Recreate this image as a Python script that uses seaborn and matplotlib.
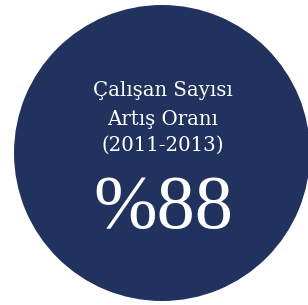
import matplotlib
matplotlib.use("Agg")
import matplotlib.pyplot as plt
import seaborn as sns

# --- veriler ---
baslik_satirlari = ["Çalışan Sayısı", "Artış Oranı", "(2011-2013)"]
artis_orani = 88
daire_payi = [100]

LACIVERT = "#21325f"

sns.set_theme(style="white")
plt.rcParams["font.family"] = ["DejaVu Serif", "Liberation Serif"]

fig = plt.figure(figsize=(3.08, 3.05), dpi=100)
ax = fig.add_axes([0, 0, 1, 1])

# tek dilimli pasta -> dolu daire
ax.pie(daire_payi, colors=[LACIVERT], center=(162, 153), radius=148,
       startangle=90, wedgeprops=dict(linewidth=0))
ax.set_xlim(0, 308)
ax.set_ylim(305, 0)
ax.set_aspect("equal")
ax.axis("off")

# baslik satirlari (taban cizgisine gore)
y_taban = [96, 125, 151]
for satir, y in zip(baslik_satirlari, y_taban):
    ax.text(163, y, satir, color="white", fontsize=14.2,
            ha="center", va="baseline")

ax.text(163, 228, f"%{artis_orani}", color="white", fontsize=55,
        ha="center", va="baseline", family=["Liberation Serif"])

fig.savefig("out.png", dpi=100, facecolor="white")
